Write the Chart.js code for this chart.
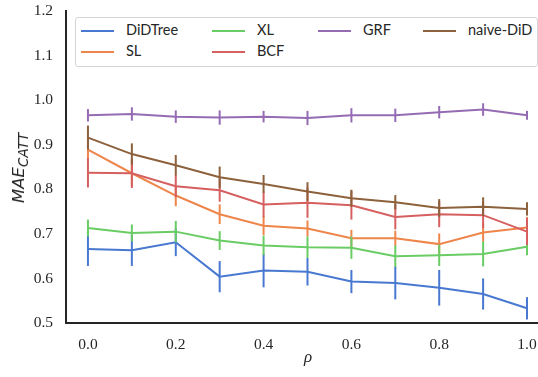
<!DOCTYPE html>
<html>
<head>
<meta charset="utf-8">
<script src="https://cdn.jsdelivr.net/npm/chart.js@4.4.1/dist/chart.umd.min.js"></script>
<style>
  body { margin: 0; background: #fff; }
  #wrap { position: relative; width: 538px; height: 377px; }
  #legend {
    position: absolute; left: 75px; top: 17px; width: 461px; height: 48px;
    border: 1px solid #d4d4d4; border-radius: 3px; background: #fff;
    font-family: Lato, sans-serif; font-size: 14.5px; color: #262626;
  }
  .item { position: absolute; height: 18px; line-height: 18px; white-space: nowrap; }
  .item span.swatch { position: absolute; left: 0; top: 8px; width: 33px; height: 2px; }
  .item span.lbl { position: absolute; left: 45px; top: -1px; }
  #ylab {
    position: absolute; left: 21px; top: 168px; transform: translate(-50%, -50%) rotate(-90deg);
    font-family: "DejaVu Sans", sans-serif; font-style: italic; font-size: 16.5px; color: #262626;
    white-space: nowrap; line-height: 20px;
  }
  #ylab sub { font-size: 13.5px; vertical-align: -4px; }
  #xlab {
    position: absolute; left: 308px; top: 357px; transform: translate(-50%, -50%);
    font-family: "Liberation Serif", serif; font-style: italic; font-size: 17px; color: #262626;
  }
</style>
</head>
<body>
<div id="wrap">
  <canvas id="chart" width="538" height="377"></canvas>
  <div id="legend"></div>
  <div id="ylab">MAE<sub>CATT</sub></div>
  <div id="xlab">ρ</div>
</div>
<script>
const rho = [0.0, 0.1, 0.2, 0.3, 0.4, 0.5, 0.6, 0.7, 0.8, 0.9, 1.0];
const xTicks = [0.0, 0.2, 0.4, 0.6, 0.8, 1.0];
const yTicks = [0.5, 0.6, 0.7, 0.8, 0.9, 1.0, 1.1, 1.2];

const didtree    = [0.666, 0.663, 0.681, 0.604, 0.618, 0.615, 0.593, 0.590, 0.579, 0.565, 0.533];
const didtreeErr = [0.038, 0.035, 0.031, 0.035, 0.038, 0.031, 0.026, 0.037, 0.040, 0.035, 0.025];
const sl         = [0.889, 0.836, 0.786, 0.744, 0.718, 0.712, 0.690, 0.690, 0.677, 0.703, 0.714];
const slErr      = [0.025, 0.030, 0.024, 0.022, 0.021, 0.018, 0.019, 0.017, 0.024, 0.021, 0.024];
const xl         = [0.713, 0.702, 0.705, 0.685, 0.674, 0.670, 0.669, 0.650, 0.652, 0.655, 0.671];
const xlErr      = [0.019, 0.019, 0.024, 0.021, 0.022, 0.024, 0.025, 0.024, 0.024, 0.028, 0.019];
const bcf        = [0.837, 0.836, 0.807, 0.798, 0.766, 0.770, 0.764, 0.738, 0.744, 0.742, 0.705];
const bcfErr     = [0.033, 0.033, 0.025, 0.026, 0.029, 0.034, 0.032, 0.028, 0.029, 0.029, 0.030];
const grf        = [0.966, 0.969, 0.963, 0.961, 0.963, 0.960, 0.966, 0.966, 0.973, 0.979, 0.966];
const grfErr     = [0.014, 0.015, 0.014, 0.016, 0.013, 0.016, 0.016, 0.015, 0.014, 0.014, 0.010];
const naive      = [0.916, 0.879, 0.854, 0.827, 0.812, 0.795, 0.780, 0.771, 0.758, 0.761, 0.756];
const naiveErr   = [0.027, 0.024, 0.023, 0.024, 0.020, 0.021, 0.019, 0.016, 0.020, 0.021, 0.015];

// plotting order (later = on top); col/row = place in the legend
const series = [
  { label: 'DiDTree',   values: didtree, errs: didtreeErr, color: '#4878d0', col: 0, row: 0 },
  { label: 'SL',        values: sl,      errs: slErr,      color: '#ee854a', col: 0, row: 1 },
  { label: 'XL',        values: xl,      errs: xlErr,      color: '#6acc64', col: 1, row: 0 },
  { label: 'BCF',       values: bcf,     errs: bcfErr,     color: '#d65f5f', col: 1, row: 1 },
  { label: 'GRF',       values: grf,     errs: grfErr,     color: '#956cb4', col: 2, row: 0 },
  { label: 'naive-DiD', values: naive,   errs: naiveErr,   color: '#8c613c', col: 3, row: 0 }
];

// error bars drawn right after each line
const errorBars = {
  id: 'errorBars',
  afterDatasetDraw(chart, args) {
    const s = series[args.index];
    const xs = chart.scales.x, ys = chart.scales.y;
    const ctx = chart.ctx;
    ctx.save();
    ctx.strokeStyle = s.color;
    ctx.lineWidth = 2;
    s.values.forEach((v, i) => {
      const px = xs.getPixelForValue(rho[i]);
      ctx.beginPath();
      ctx.moveTo(px, ys.getPixelForValue(v - s.errs[i]));
      ctx.lineTo(px, ys.getPixelForValue(v + s.errs[i]));
      ctx.stroke();
    });
    ctx.restore();
  }
};

const tickFont = { family: '"Liberation Serif", serif', size: 15.5 };

new Chart(document.getElementById('chart'), {
  type: 'line',
  data: {
    datasets: series.map((s, k) => ({
      label: s.label,
      data: rho.map((r, i) => ({ x: r, y: s.values[i] })),
      borderColor: s.color,
      backgroundColor: s.color,
      borderWidth: 2,
      pointRadius: 0,
      tension: 0,
      order: series.length - k
    }))
  },
  options: {
    responsive: false,
    animation: false,
    layout: { padding: { top: 11, right: 0, left: 0, bottom: 0 } },
    plugins: { legend: { display: false }, tooltip: { enabled: false } },
    scales: {
      x: {
        type: 'linear', min: -0.05, max: 1.025,
        grid: { display: false, drawTicks: false },
        border: { display: true, color: '#262626', width: 2 },
        afterBuildTicks: sc => { sc.ticks = xTicks.map(v => ({ value: v })); },
        afterFit: sc => { sc.height = 54; sc.paddingLeft = 0; sc.paddingRight = 0; },
        ticks: {
          padding: 13, color: '#262626', font: tickFont, maxRotation: 0,
          callback: v => v.toFixed(1)
        }
      },
      y: {
        type: 'linear', min: 0.5, max: 1.2,
        grid: { display: false, drawTicks: false },
        border: { display: true, color: '#262626', width: 2 },
        afterBuildTicks: sc => { sc.ticks = yTicks.map(v => ({ value: v })); },
        afterFit: sc => { sc.width = 66; sc.paddingTop = 0; sc.paddingBottom = 0; },
        ticks: {
          padding: 13, color: '#262626', font: tickFont,
          callback: v => v.toFixed(1)
        }
      }
    }
  },
  plugins: [errorBars]
});

// legend laid out column-first in 4 columns, as in the original
const legend = document.getElementById('legend');
const colX = [5, 136, 242, 347];
const rowY = [4, 25];
series.forEach(s => {
  const it = document.createElement('div');
  it.className = 'item';
  it.style.left = colX[s.col] + 'px';
  it.style.top = rowY[s.row] + 'px';
  it.innerHTML = '<span class="swatch" style="background:' + s.color + '"></span><span class="lbl">' + s.label + '</span>';
  legend.appendChild(it);
});
</script>
</body>
</html>
